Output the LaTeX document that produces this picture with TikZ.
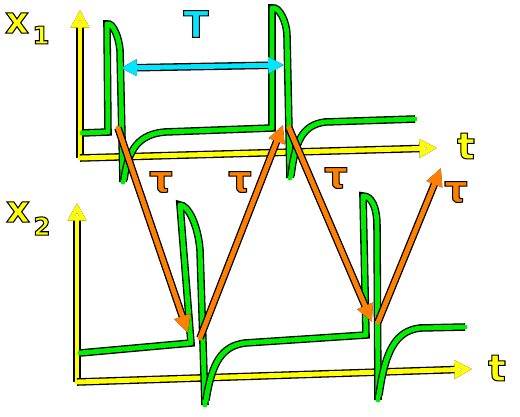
\documentclass[tikz,border=0pt]{standalone}
\usepackage{fontspec}
\setmainfont{DejaVu Sans}
\usetikzlibrary{arrows.meta}
\definecolor{penyellow}{RGB}{255,255,0}
\definecolor{pengreen}{RGB}{0,238,0}
\definecolor{penorange}{RGB}{255,128,0}
\definecolor{pencyan}{RGB}{0,230,255}
\newcommand\inked[1]{\special{pdf:code q 0 0 0 RG 0.6 w 2 Tr}#1\special{pdf:code Q}}
\begin{document}
\begin{tikzpicture}[
    x=0.02cm, y=-0.02cm,
    pen/.style={
        draw=#1,
        line width=2.8pt,
        line cap=round,
        line join=round,
        preaction={draw=black, line width=4.3pt}
    },
    axis/.style={pen=penyellow, -{Triangle[open, length=10pt, width=10pt]}},
    signal/.style={pen=pengreen},
    delay/.style={pen=penorange, -{Triangle[length=10pt, width=9pt]}},
    period/.style={pen=pencyan, {Triangle[length=9pt, width=9pt]}-{Triangle[length=9pt, width=9pt]}},
    sketchtext/.style={inner sep=0pt, font=\fontsize{21}{23}\selectfont\bfseries},
    subtext/.style={inner sep=0pt, font=\fontsize{14}{16}\selectfont\bfseries}
]
    \useasboundingbox (0,0) rectangle (520,416);

    % Axes
    \draw[axis] (80,158) -- (80,10);
    \draw[axis] (80,158) -- (437,148);
    \draw[axis] (77,382) -- (77,203);
    \draw[axis] (77,382) -- (472,369);

    % Axis labels
    \node[sketchtext, text=penyellow] (xone) at (17,23) {\inked{x}};
    \node[subtext, text=penyellow] (xonesub) at (41,35) {\inked{1}};
    \node[sketchtext, text=penyellow] (xtwo) at (18,212) {\inked{x}};
    \node[subtext, text=penyellow] (xtwosub) at (42,226) {\inked{2}};
    \node[sketchtext, text=penyellow] (tone) at (466,146) {\inked{t}};
    \node[sketchtext, text=penyellow] (ttwo) at (497,368) {\inked{t}};

    % Signal x1
    \draw[signal] (82,133) -- (108,132) -- (107,24)
        .. controls (113,22) and (119,38) .. (120,50) -- (123,182);
    \draw[signal] (124,180) .. controls (128,148) and (140,134) .. (165,132)
        -- (272,128) -- (272,8)
        .. controls (279,6) and (287,22) .. (287,36) -- (290,178);
    \draw[signal] (291,176) .. controls (295,142) and (302,125) .. (325,122)
        -- (415,119);

    % Signal x2
    \draw[signal] (80,353) -- (191,343) -- (180,205)
        .. controls (188,205) and (198,225) .. (200,250) -- (205,405);
    \draw[signal] (206,400) .. controls (212,362) and (222,346) .. (245,343)
        -- (366,335) -- (363,196)
        .. controls (371,196) and (377,206) .. (377,226) -- (378,400);
    \draw[signal] (379,395) .. controls (385,352) and (395,331) .. (420,328)
        -- (465,327);

    % Delay points
    \coordinate (riseA) at (118,128);
    \coordinate (riseB) at (289,128);
    \coordinate (dropA) at (188,333);
    \coordinate (dropB) at (372,322);
    \coordinate (backA) at (200,338);
    \coordinate (backB) at (378,322);
    \coordinate (peakB) at (283,125);
    \coordinate (peakC) at (441,168);

    % Delays
    \draw[delay] (riseA) -- (dropA);
    \draw[delay] (backA) -- (peakB);
    \draw[delay] (riseB) -- (dropB);
    \draw[delay] (backB) -- (peakC);
    \node[sketchtext, text=penorange] (tauA) at (161,182) {\inked{τ}};
    \node[sketchtext, text=penorange] (tauB) at (240,182) {\inked{τ}};
    \node[sketchtext, text=penorange] (tauC) at (336,178) {\inked{τ}};
    \node[sketchtext, text=penorange] (tauD) at (456,192) {\inked{τ}};

    % Period
    \coordinate (perA) at (121,68);
    \coordinate (perB) at (284,65);
    \draw[period] (perA) -- (perB);
    \node[sketchtext, text=pencyan] (period) at (196,24) {\inked{T}};
\end{tikzpicture}
\end{document}
